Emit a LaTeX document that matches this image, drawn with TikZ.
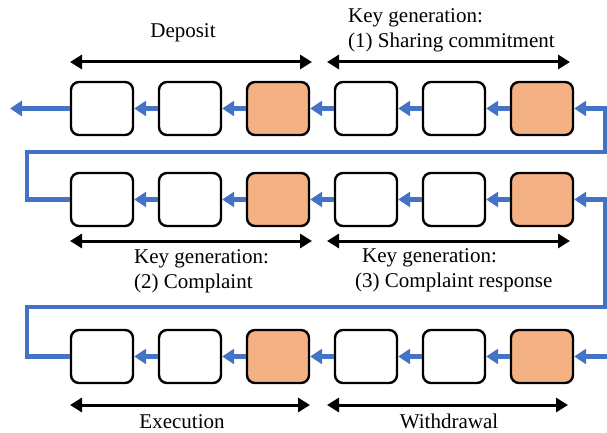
\documentclass[tikz,border=0pt]{standalone}
\usepackage{fontspec}
\setmainfont{Liberation Serif}
\usetikzlibrary{arrows.meta}
\definecolor{flowblue}{HTML}{4472C4}
\definecolor{keyorange}{HTML}{F4B183}
\tikzset{
  blk/.style={draw=black, line width=2.4pt, rounded corners=8pt,
    minimum width=62pt, minimum height=53pt, inner sep=0pt, fill=white},
  hot/.style={blk, fill=keyorange},
  flow/.style={draw=flowblue, line width=4.5pt,
    -{Triangle[length=12pt,width=15pt]}},
  span/.style={draw=black, line width=3pt,
    {Triangle[length=12pt,width=14pt]}-{Triangle[length=12pt,width=14pt]}},
  lbl/.style={inner sep=0pt, font=\fontsize{21}{25}\selectfont, align=left},
}
\begin{document}
\begin{tikzpicture}[x=1pt, y=-1pt]
\useasboundingbox (0,0) rectangle (607,433);

% three rows of six blocks; the rightmost and the third are highlighted
\foreach \r/\y in {1/108.5, 2/199.5, 3/356.5}{
  \node[blk] (b\r1) at (102,\y) {};
  \node[blk] (b\r2) at (190,\y) {};
  \node[hot] (b\r3) at (278,\y) {};
  \node[blk] (b\r4) at (366,\y) {};
  \node[blk] (b\r5) at (454,\y) {};
  \node[hot] (b\r6) at (542,\y) {};
  \foreach \i/\j in {2/1, 3/2, 4/3, 5/4, 6/5}
    \draw[flow] (b\r\i.west) -- (b\r\j.east);
}

% chain entry, exit and the wrap-around links between rows
\coordinate (out) at (10,108.5);
\coordinate (in)  at (607,356.5);
\draw[flow] (b11.west) -- (out);
\draw[flow] (in) -- (b36.east);
\draw[flow] (b21.west) -| (27,152) -- (605,152) |- (b16.east);
\draw[flow] (b31.west) -| (27,307) -- (605,307) |- (b26.east);

% phase spans
\coordinate (s1a) at (70,62);   \coordinate (s1b) at (312,62);
\coordinate (s2a) at (327,62);  \coordinate (s2b) at (570,62);
\coordinate (s3a) at (70,241);  \coordinate (s3b) at (312,241);
\coordinate (s4a) at (327,241); \coordinate (s4b) at (570,241);
\coordinate (s5a) at (70,405);  \coordinate (s5b) at (310,405);
\coordinate (s6a) at (327,405); \coordinate (s6b) at (568,405);
\foreach \k in {1,...,6}
  \draw[span] (s\k a) -- (s\k b);

% phase names
\node[lbl] (t1) at (183,33) {Deposit};
\node[lbl, anchor=west] (t2) at (348,30) {Key generation:\\(1) Sharing commitment};
\node[lbl, anchor=west] (t3) at (134,271) {Key generation:\\(2) Complaint};
\node[lbl, anchor=west] (t4) at (355,270) {\hspace{7pt}Key generation:\\(3) Complaint response};
\node[lbl] (t5) at (182,421.5) {Execution};
\node[lbl] (t6) at (449,421.5) {Withdrawal};
\end{tikzpicture}
\end{document}
